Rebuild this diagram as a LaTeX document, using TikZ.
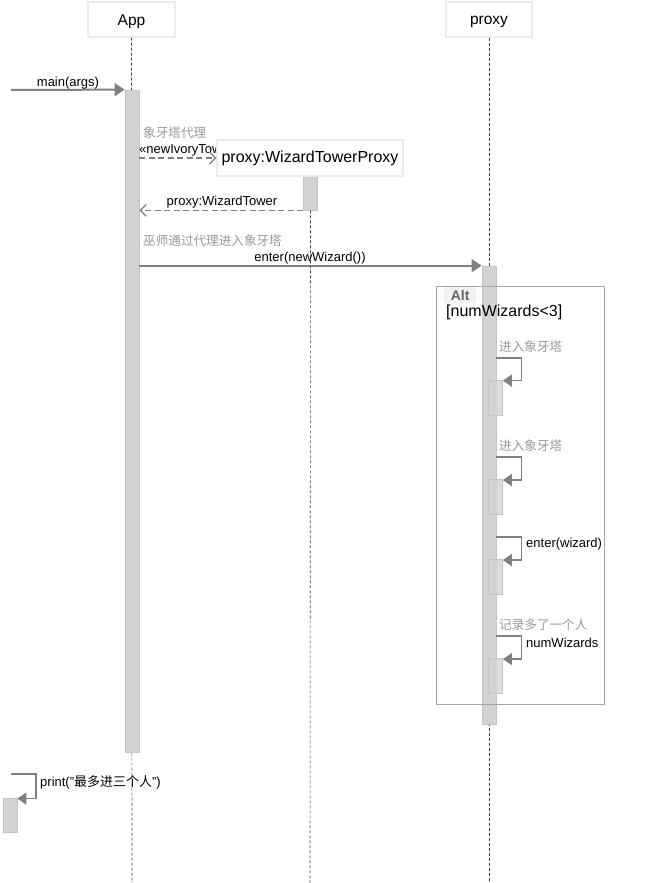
\documentclass[tikz,border=0pt]{standalone}
\usepackage{fontspec}
\setmainfont{Liberation Sans}
\newfontfamily\cjk{Noto Sans CJK SC}
\usetikzlibrary{arrows.meta}
\definecolor{arrowgray}{HTML}{808080}
\definecolor{actfill}{HTML}{D3D3D3}
\definecolor{actline}{HTML}{C4C4C4}
\definecolor{cngray}{HTML}{999999}
\tikzset{
  head/.style={draw=black!8, fill=white, line width=1.2pt, inner sep=0pt, minimum height=35pt, font=\fontsize{15.5}{18}\selectfont},
  lifeline/.style={draw=black!75, line width=0.6pt, dash pattern=on 3pt off 2pt},
  act/.style={fill=actfill, draw=actline, line width=0.8pt, inner sep=0pt, minimum width=14pt},
  subact/.style={fill=actfill, fill opacity=0.8, draw=actline, line width=0.8pt, inner sep=0pt, minimum width=14pt, minimum height=35pt},
  msg/.style={draw=arrowgray, line width=2pt, -{Triangle[length=10pt,width=13pt]}},
  selfmsg/.style={draw=arrowgray, line width=1.6pt, -{Triangle[length=9pt,width=12pt]}},
  retmsg/.style={draw=arrowgray, line width=1.6pt, dash pattern=on 6pt off 3.5pt, -{Straight Barb[length=6pt,width=12pt,line width=1.3pt]}},
  lbl/.style={font=\fontsize{13}{15}\selectfont, inner sep=0pt},
  cn/.style={font=\cjk\fontsize{12.6}{14}\selectfont, text=cngray, inner sep=0pt},
  frame/.style={draw=black!35, line width=0.8pt, inner sep=0pt},
}
\begin{document}
\begin{tikzpicture}[x=1pt,y=-1pt]
\useasboundingbox (0,0) rectangle (649,883);
% headers
\node[head, minimum width=87pt, text depth=0pt] (app) at (131.5,19.5) {\raisebox{-2pt}{App}};
\node[head, minimum width=86pt, text depth=0pt] (proxy) at (489,19.5) {\raisebox{-2pt}{proxy}};
\coordinate (append) at (132,883);
\coordinate (proxyend) at (489,883);
\coordinate (wtpend) at (310,883);
% lifelines
\draw[lifeline] (app.south) -- (append);
\draw[lifeline] (proxy.south) -- (proxyend);
% activations
\node[act, minimum height=662pt] (appact) at (132,421) {};
\node[act, minimum height=34pt] (wact) at (310.5,193) {};
\draw[lifeline] (wact.south) -- (wtpend);
\node[act, minimum height=458pt] (pact) at (489,495) {};
% main(args)
\coordinate (mstart) at (11,90);
\draw[msg] (mstart) -- (appact.north west);
\node[lbl, anchor=south] (mainlbl) at (68,89) {main(args)};
% create
\node[cn, anchor=west] (cnproxy) at (143,133) {象牙塔代理};
\node[lbl, anchor=west] (newlbl) at (139,150) {«newIvoryTow};
\node[head, minimum width=186pt, minimum height=36pt, font=\fontsize{16}{19}\selectfont] (wtp) at (310,158) {proxy:WizardTowerProxy};
\draw[retmsg] (appact.east |- wtp.west) -- (wtp.west);
% return
\draw[retmsg] (wact.south west) -- (appact.east |- wact.south);
\node[lbl, anchor=south] (retlbl) at (222,208) {proxy:WizardTower};
% enter
\node[cn, anchor=west] (cnenter) at (143,241) {巫师通过代理进入象牙塔};
\draw[msg] (appact.east |- pact.north) -- (pact.north west);
\node[lbl, anchor=south] (enterlbl) at (310,264) {enter(newWizard())};
% alt frame
\node[frame, minimum width=168pt, minimum height=418pt] (alt) at (520,495) {};
\node[fill=black!5, text=black!60, font=\bfseries\fontsize{14}{16}\selectfont, inner sep=0pt, minimum width=32pt, minimum height=16pt, anchor=north west] (alttag) at (444,287) {Alt};
\node[font=\fontsize{16}{19}\selectfont, inner sep=0pt, anchor=west] (cond) at (446,312) {[numWizards<3]};
% self calls
\node[subact] (s1) at (495.5,397.5) {};
\node[subact] (s2) at (495.5,497) {};
\node[subact] (s3) at (495.5,577) {};
\node[subact] (s4) at (495.5,676) {};
\draw[selfmsg] (pact.east |- 0,358) -- (521.5,358) |- ([yshift=-1pt]s1.north east);
\draw[selfmsg] (pact.east |- 0,457) -- (521.5,457) |- ([yshift=-1pt]s2.north east);
\draw[selfmsg] (pact.east |- 0,537) -- (521.5,537) |- ([yshift=-1pt]s3.north east);
\draw[selfmsg] (pact.east |- 0,636) -- (521.5,636) |- ([yshift=-1pt]s4.north east);
\node[cn, anchor=west] (l1) at (499,347) {进入象牙塔};
\node[cn, anchor=west] (l2) at (499,446) {进入象牙塔};
\node[lbl, anchor=west] (l3) at (526,544) {enter(wizard)};
\node[cn, anchor=west] (l4a) at (499,625) {记录多了一个人};
\node[lbl, anchor=west] (l4b) at (526,643) {numWizards};
% print
\coordinate (pstart) at (11,774);
\node[act, minimum height=34pt] (pr) at (10,815) {};
\draw[selfmsg] (pstart) -- (36,774) |- ([yshift=-1pt]pr.north east);
\node[lbl, anchor=west] (prlbl) at (40,782) {print("{\cjk 最多进三个人}")};
\end{tikzpicture}
\end{document}
